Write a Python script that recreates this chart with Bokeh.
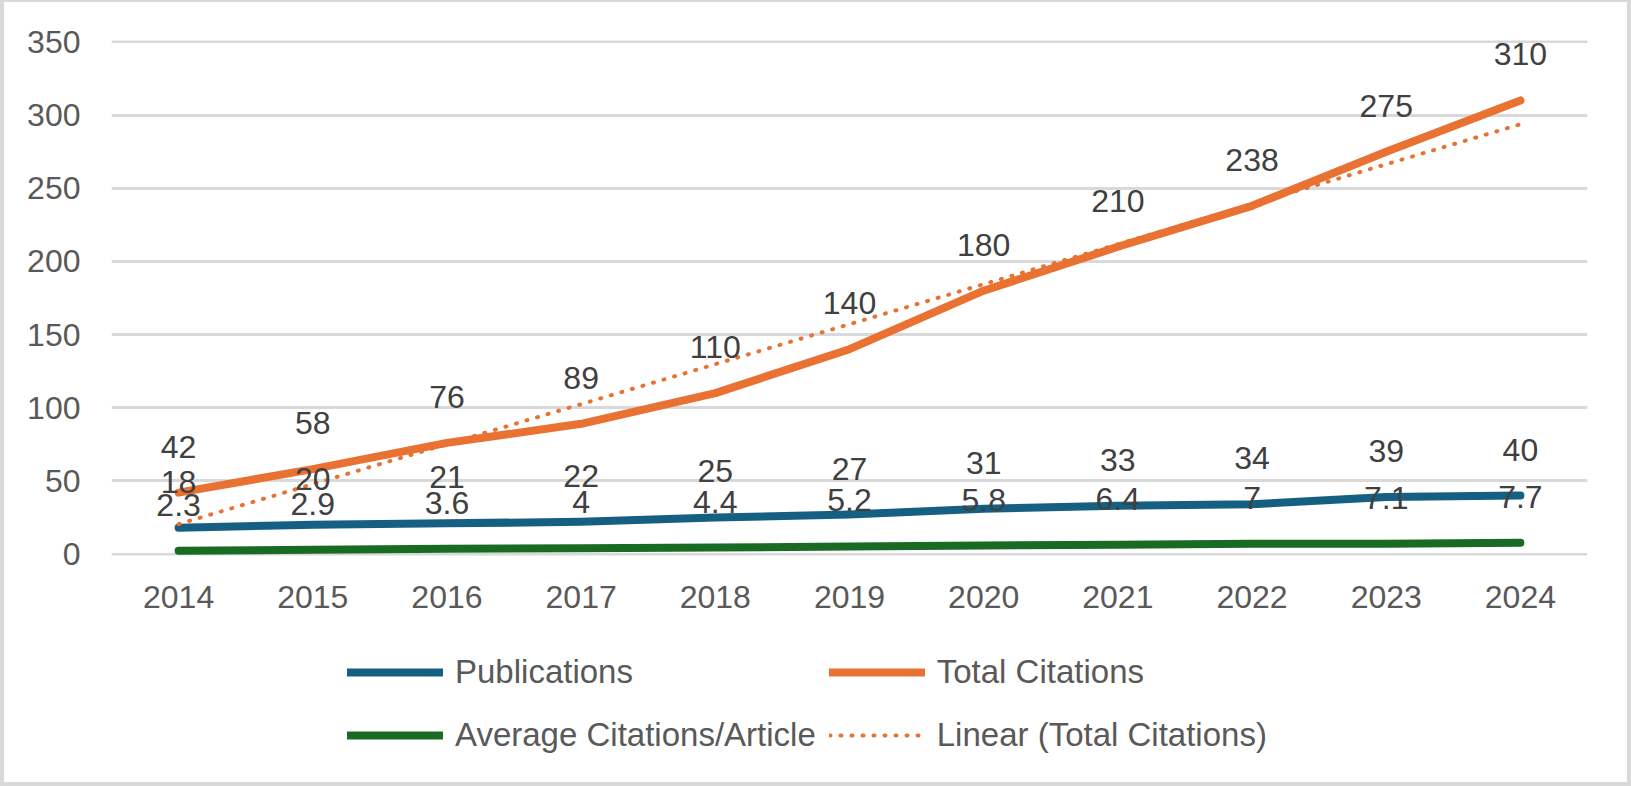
import numpy as np
from bokeh.plotting import figure
from bokeh.layouts import column
from bokeh.models import ColumnDataSource, Range1d, FixedTicker, Legend, LegendItem, InlineStyleSheet
from bokeh.core.properties import value
from bokeh.embed import file_html
from bokeh.resources import INLINE

# ---- data ----
years = ["2014", "2015", "2016", "2017", "2018", "2019", "2020", "2021", "2022", "2023", "2024"]
publications = [18, 20, 21, 22, 25, 27, 31, 33, 34, 39, 40]
total_citations = [42, 58, 76, 89, 110, 140, 180, 210, 238, 275, 310]
avg_citations = [2.3, 2.9, 3.6, 4, 4.4, 5.2, 5.8, 6.4, 7, 7.1, 7.7]
y_ticks = [0, 50, 100, 150, 200, 250, 300, 350]
series_names = ["Publications", "Total Citations", "Average Citations/Article", "Linear (Total Citations)"]

# linear trendline (least squares) of Total Citations, as Excel computes it
idx = np.arange(1, len(years) + 1)
coef = np.polyfit(idx, total_citations, 1)
trend = list(np.polyval(coef, idx))

FONT = "Liberation Sans"
BLUE = "#156082"
ORANGE = "#E97132"
GREEN = "#196B24"
TICK_COLOR = "#595959"
LABEL_COLOR = "#404040"
W = 1631
MAIN_H = 625
LEG_H = 161

p = figure(x_range=years, y_range=Range1d(-1, 351), width=W, height=MAIN_H,
           output_backend="svg", toolbar_location=None,
           min_border_left=111, min_border_right=44, min_border_top=40,
           min_border_bottom=MAIN_H - 40 - 515)
p.outline_line_color = None
p.background_fill_color = "white"
p.border_fill_color = "white"

p.xgrid.grid_line_color = None
p.ygrid.grid_line_color = "#D9D9D9"
p.ygrid.grid_line_width = 3
p.yaxis.ticker = FixedTicker(ticks=y_ticks)

for ax in (p.xaxis[0], p.yaxis[0]):
    ax.axis_line_color = None
    ax.major_tick_line_color = None
    ax.minor_tick_line_color = None
    ax.major_tick_out = 0
    ax.major_tick_in = 0
    ax.major_label_text_font = FONT
    ax.major_label_text_font_size = "32px"
    ax.major_label_text_color = TICK_COLOR
p.yaxis.major_label_standoff = 31
p.xaxis.major_label_standoff = 30

lw = 8
p.line(years, publications, line_color=BLUE, line_width=lw, line_cap="round", line_join="round")
p.line(years, total_citations, line_color=ORANGE, line_width=lw, line_cap="round", line_join="round")
p.line(years, avg_citations, line_color=GREEN, line_width=lw, line_cap="round", line_join="round")
p.line(years, trend, line_color=ORANGE, line_width=4, line_dash="1 10", line_cap="round")

def fmt(v):
    return f"{v:g}"

for series in (publications, total_citations, avg_citations):
    src = ColumnDataSource(dict(x=years, y=series, t=[fmt(v) for v in series]))
    p.text(x="x", y="y", text="t", source=src, text_align="center", text_baseline="middle",
           y_offset=-46, text_font=value(FONT), text_font_size="32px", text_color=LABEL_COLOR)

# ---- legend in its own strip below the chart ----
lf = figure(width=W, height=LEG_H, output_backend="svg", toolbar_location=None,
            x_range=Range1d(0, 1), y_range=Range1d(0, 1),
            x_axis_location=None, y_axis_location=None,
            min_border_left=0, min_border_right=0, min_border_top=0, min_border_bottom=0)
lf.outline_line_color = None
lf.grid.grid_line_color = None
lf.background_fill_color = "white"
lf.border_fill_color = "white"
off_x = [5, 6]
off_y = [5, 5]
l_pub = lf.line(off_x, off_y, line_color=BLUE, line_width=lw, line_cap="round")
l_tot = lf.line(off_x, off_y, line_color=ORANGE, line_width=lw, line_cap="round")
l_avg = lf.line(off_x, off_y, line_color=GREEN, line_width=lw, line_cap="round")
l_trend = lf.line(off_x, off_y, line_color=ORANGE, line_width=4, line_dash="1 10", line_cap="round")

legend = Legend(items=[
    LegendItem(label=series_names[0], renderers=[l_pub]),
    LegendItem(label=series_names[1], renderers=[l_tot]),
    LegendItem(label=series_names[2], renderers=[l_avg]),
    LegendItem(label=series_names[3], renderers=[l_trend]),
], location=(236, 26), orientation="horizontal", ncols=2,
    glyph_width=96, glyph_height=50, label_height=50, label_standoff=12,
    spacing=13, padding=0, margin=0, border_line_color=None,
    background_fill_alpha=0, label_text_font=FONT, label_text_font_size="33px",
    label_text_color=TICK_COLOR)
lf.add_layout(legend)

layout = column(p, lf, spacing=0)
frame_css = InlineStyleSheet(css="""
:host::after {
  content: "";
  position: absolute;
  left: 0; top: 0; right: 0; bottom: 0;
  border: 4px solid #D9D9D9;
  border-top-width: 2px;
  box-sizing: border-box;
  pointer-events: none;
  z-index: 100;
}
""")
layout.stylesheets = [frame_css]

open("out.html", "w").write(file_html(layout, INLINE))
